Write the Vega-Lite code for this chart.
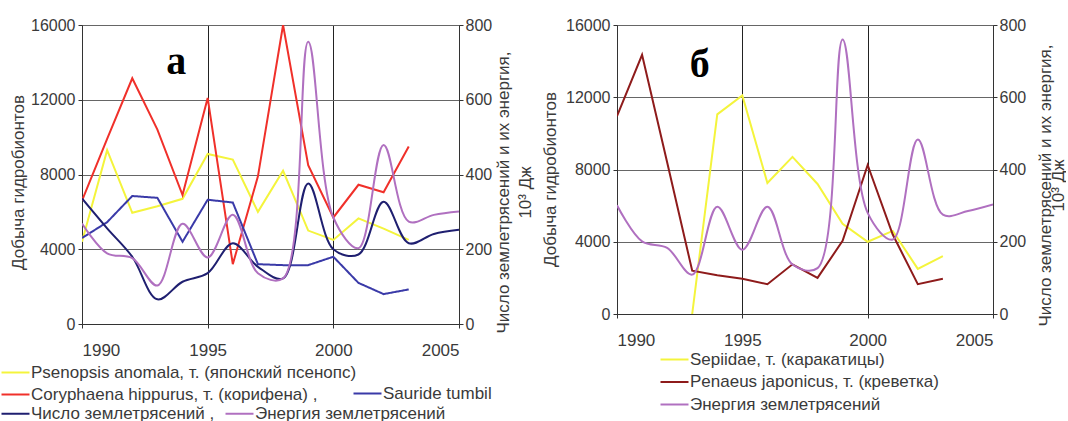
{
  "$schema": "https://vega.github.io/schema/vega-lite/v6.json",
  "background": "white",
  "padding": {"left": 0, "top": 17, "right": 0, "bottom": 0},
  "spacing": 158,
  "bounds": "flush",
  "config": {
    "view": {"stroke": null},
    "font": "Liberation Sans",
    "axis": {
      "labelFont": "Liberation Sans", "labelFontSize": 16, "labelColor": "#3a3a3a",
      "titleFont": "Liberation Sans", "titleFontSize": 17, "titleFontWeight": "normal", "titleColor": "#3a3a3a",
      "domainColor": "#333333", "tickColor": "#333333", "tickSize": 4
    },
    "legend": {
      "labelFont": "Liberation Sans", "labelFontSize": 17, "labelColor": "#3a3a3a",
      "padding": 0, "labelLimit": 600, "symbolStrokeWidth": 2
    }
  },
  "resolve": {
    "scale": {"x": "independent", "y": "independent", "color": "independent", "stroke": "independent", "strokeDash": "independent"},
    "legend": {"color": "independent", "stroke": "independent", "strokeDash": "independent"}
  },
  "datasets": {
    "a": [
      {"year": 1990, "series": "Psenopsis anomala, т. (японский псенопс)", "value": 4400},
      {"year": 1991, "series": "Psenopsis anomala, т. (японский псенопс)", "value": 9300},
      {"year": 1992, "series": "Psenopsis anomala, т. (японский псенопс)", "value": 5950},
      {"year": 1993, "series": "Psenopsis anomala, т. (японский псенопс)", "value": 6300},
      {"year": 1994, "series": "Psenopsis anomala, т. (японский псенопс)", "value": 6700},
      {"year": 1995, "series": "Psenopsis anomala, т. (японский псенопс)", "value": 9100},
      {"year": 1996, "series": "Psenopsis anomala, т. (японский псенопс)", "value": 8800},
      {"year": 1997, "series": "Psenopsis anomala, т. (японский псенопс)", "value": 6000},
      {"year": 1998, "series": "Psenopsis anomala, т. (японский псенопс)", "value": 8200},
      {"year": 1999, "series": "Psenopsis anomala, т. (японский псенопс)", "value": 5000},
      {"year": 2000, "series": "Psenopsis anomala, т. (японский псенопс)", "value": 4500},
      {"year": 2001, "series": "Psenopsis anomala, т. (японский псенопс)", "value": 5650},
      {"year": 2002, "series": "Psenopsis anomala, т. (японский псенопс)", "value": 5100},
      {"year": 2003, "series": "Psenopsis anomala, т. (японский псенопс)", "value": 4500},
      {"year": 1990, "series": "Coryphaena hippurus, т. (корифена)", "value": 6600},
      {"year": 1991, "series": "Coryphaena hippurus, т. (корифена)", "value": 9900},
      {"year": 1992, "series": "Coryphaena hippurus, т. (корифена)", "value": 13150},
      {"year": 1993, "series": "Coryphaena hippurus, т. (корифена)", "value": 10400},
      {"year": 1994, "series": "Coryphaena hippurus, т. (корифена)", "value": 6900},
      {"year": 1995, "series": "Coryphaena hippurus, т. (корифена)", "value": 12100},
      {"year": 1996, "series": "Coryphaena hippurus, т. (корифена)", "value": 3200},
      {"year": 1997, "series": "Coryphaena hippurus, т. (корифена)", "value": 7900},
      {"year": 1998, "series": "Coryphaena hippurus, т. (корифена)", "value": 16000},
      {"year": 1999, "series": "Coryphaena hippurus, т. (корифена)", "value": 8500},
      {"year": 2000, "series": "Coryphaena hippurus, т. (корифена)", "value": 5700},
      {"year": 2001, "series": "Coryphaena hippurus, т. (корифена)", "value": 7450},
      {"year": 2002, "series": "Coryphaena hippurus, т. (корифена)", "value": 7050},
      {"year": 2003, "series": "Coryphaena hippurus, т. (корифена)", "value": 9500},
      {"year": 1990, "series": "Sauride tumbil", "value": 4600},
      {"year": 1991, "series": "Sauride tumbil", "value": 5450},
      {"year": 1992, "series": "Sauride tumbil", "value": 6850},
      {"year": 1993, "series": "Sauride tumbil", "value": 6750},
      {"year": 1994, "series": "Sauride tumbil", "value": 4400},
      {"year": 1995, "series": "Sauride tumbil", "value": 6650},
      {"year": 1996, "series": "Sauride tumbil", "value": 6500},
      {"year": 1997, "series": "Sauride tumbil", "value": 3200},
      {"year": 1998, "series": "Sauride tumbil", "value": 3150},
      {"year": 1999, "series": "Sauride tumbil", "value": 3150},
      {"year": 2000, "series": "Sauride tumbil", "value": 3600},
      {"year": 2001, "series": "Sauride tumbil", "value": 2200},
      {"year": 2002, "series": "Sauride tumbil", "value": 1600},
      {"year": 2003, "series": "Sauride tumbil", "value": 1850},
      {"year": 1990, "series": "Число землетрясений", "value": 336},
      {"year": 1991, "series": "Число землетрясений", "value": 256},
      {"year": 1992, "series": "Число землетрясений", "value": 180},
      {"year": 1993, "series": "Число землетрясений", "value": 66},
      {"year": 1994, "series": "Число землетрясений", "value": 113},
      {"year": 1995, "series": "Число землетрясений", "value": 136},
      {"year": 1996, "series": "Число землетрясений", "value": 216},
      {"year": 1997, "series": "Число землетрясений", "value": 153},
      {"year": 1998, "series": "Число землетрясений", "value": 122},
      {"year": 1999, "series": "Число землетрясений", "value": 376},
      {"year": 2000, "series": "Число землетрясений", "value": 200},
      {"year": 2001, "series": "Число землетрясений", "value": 186},
      {"year": 2002, "series": "Число землетрясений", "value": 327},
      {"year": 2003, "series": "Число землетрясений", "value": 216},
      {"year": 2004, "series": "Число землетрясений", "value": 241},
      {"year": 2005, "series": "Число землетрясений", "value": 252},
      {"year": 1990, "series": "Энергия землетрясений", "value": 269},
      {"year": 1991, "series": "Энергия землетрясений", "value": 189},
      {"year": 1992, "series": "Энергия землетрясений", "value": 176},
      {"year": 1993, "series": "Энергия землетрясений", "value": 103},
      {"year": 1994, "series": "Энергия землетрясений", "value": 268},
      {"year": 1995, "series": "Энергия землетрясений", "value": 178},
      {"year": 1996, "series": "Энергия землетрясений", "value": 292},
      {"year": 1997, "series": "Энергия землетрясений", "value": 136},
      {"year": 1998, "series": "Энергия землетрясений", "value": 122},
      {"year": 1999, "series": "Энергия землетрясений", "value": 755},
      {"year": 2000, "series": "Энергия землетрясений", "value": 285},
      {"year": 2001, "series": "Энергия землетрясений", "value": 203},
      {"year": 2002, "series": "Энергия землетрясений", "value": 479},
      {"year": 2003, "series": "Энергия землетрясений", "value": 274},
      {"year": 2004, "series": "Энергия землетрясений", "value": 292},
      {"year": 2005, "series": "Энергия землетрясений", "value": 301}
    ],
    "b": [
      {"year": 1993, "series": "Sepiidae, т. (каракатицы)", "value": 0},
      {"year": 1994, "series": "Sepiidae, т. (каракатицы)", "value": 11050},
      {"year": 1995, "series": "Sepiidae, т. (каракатицы)", "value": 12100},
      {"year": 1996, "series": "Sepiidae, т. (каракатицы)", "value": 7250},
      {"year": 1997, "series": "Sepiidae, т. (каракатицы)", "value": 8700},
      {"year": 1998, "series": "Sepiidae, т. (каракатицы)", "value": 7200},
      {"year": 1999, "series": "Sepiidae, т. (каракатицы)", "value": 5000},
      {"year": 2000, "series": "Sepiidae, т. (каракатицы)", "value": 4000},
      {"year": 2001, "series": "Sepiidae, т. (каракатицы)", "value": 4600},
      {"year": 2002, "series": "Sepiidae, т. (каракатицы)", "value": 2500},
      {"year": 2003, "series": "Sepiidae, т. (каракатицы)", "value": 3200},
      {"year": 1990, "series": "Penaeus japonicus, т. (креветка)", "value": 10950},
      {"year": 1991, "series": "Penaeus japonicus, т. (креветка)", "value": 14350},
      {"year": 1992, "series": "Penaeus japonicus, т. (креветка)", "value": 8400},
      {"year": 1993, "series": "Penaeus japonicus, т. (креветка)", "value": 2400},
      {"year": 1994, "series": "Penaeus japonicus, т. (креветка)", "value": 2150},
      {"year": 1995, "series": "Penaeus japonicus, т. (креветка)", "value": 1950},
      {"year": 1996, "series": "Penaeus japonicus, т. (креветка)", "value": 1650},
      {"year": 1997, "series": "Penaeus japonicus, т. (креветка)", "value": 2750},
      {"year": 1998, "series": "Penaeus japonicus, т. (креветка)", "value": 2000},
      {"year": 1999, "series": "Penaeus japonicus, т. (креветка)", "value": 4050},
      {"year": 2000, "series": "Penaeus japonicus, т. (креветка)", "value": 8250},
      {"year": 2001, "series": "Penaeus japonicus, т. (креветка)", "value": 4400},
      {"year": 2002, "series": "Penaeus japonicus, т. (креветка)", "value": 1650},
      {"year": 2003, "series": "Penaeus japonicus, т. (креветка)", "value": 1950},
      {"year": 1990, "series": "Энергия землетрясений", "value": 301},
      {"year": 1991, "series": "Энергия землетрясений", "value": 201},
      {"year": 1992, "series": "Энергия землетрясений", "value": 183},
      {"year": 1993, "series": "Энергия землетрясений", "value": 109},
      {"year": 1994, "series": "Энергия землетрясений", "value": 297},
      {"year": 1995, "series": "Энергия землетрясений", "value": 178},
      {"year": 1996, "series": "Энергия землетрясений", "value": 297},
      {"year": 1997, "series": "Энергия землетрясений", "value": 137},
      {"year": 1998, "series": "Энергия землетрясений", "value": 127},
      {"year": 1999, "series": "Энергия землетрясений", "value": 760},
      {"year": 2000, "series": "Энергия землетрясений", "value": 280},
      {"year": 2001, "series": "Энергия землетрясений", "value": 206},
      {"year": 2002, "series": "Энергия землетрясений", "value": 483},
      {"year": 2003, "series": "Энергия землетрясений", "value": 275},
      {"year": 2004, "series": "Энергия землетрясений", "value": 285},
      {"year": 2005, "series": "Энергия землетрясений", "value": 303}
    ]
  },
  "hconcat": [
    {
      "width": 377,
      "height": 299,
      "data": {"name": "a"},
      "resolve": {"scale": {"y": "independent"}},
      "layer": [
        {
          "layer": [
            {
              "transform": [{"filter": "datum.series === 'Psenopsis anomala, т. (японский псенопс)' || datum.series === 'Coryphaena hippurus, т. (корифена)'"}],
              "mark": {"type": "line", "strokeWidth": 2, "clip": true},
              "encoding": {
                "x": {"field": "year", "type": "quantitative",
                  "scale": {"domain": [1990, 2005], "nice": false, "zero": false},
                  "axis": {"values": [1990, 1995, 2000, 2005], "format": "d", "title": null, "grid": true, "gridColor": "#222222", "gridOpacity": 1, "labelPadding": 14, "labelFontSize": 17}},
                "y": {"field": "value", "type": "quantitative",
                  "scale": {"domain": [0, 16000], "nice": false},
                  "axis": {"orient": "left", "values": [0, 4000, 8000, 12000, 16000], "format": "d", "grid": true, "gridColor": "#666666", "gridOpacity": 1, "title": "Добыча гидробионтов", "titlePadding": 3, "titleY": 157, "labelPadding": 3}},
                "color": {"field": "series", "type": "nominal",
                  "scale": {"domain": ["Psenopsis anomala, т. (японский псенопс)", "Coryphaena hippurus, т. (корифена)"], "range": ["#f4f43c", "#f0302a"]},
                  "legend": {"title": null, "orient": "none", "legendX": -82, "legendY": 339, "direction": "vertical", "symbolType": "M-1,0H3", "symbolSize": 196, "symbolStrokeWidth": 2, "labelOffset": 14, "rowPadding": 4,
                    "labelExpr": "datum.label == 'Coryphaena hippurus, т. (корифена)' ? datum.label + ' ,' : datum.label"}}
              }
            },
            {
              "transform": [{"filter": "datum.series === 'Sauride tumbil'"}],
              "mark": {"type": "line", "strokeWidth": 2, "color": "#3a3aa8", "clip": true},
              "encoding": {
                "x": {"field": "year", "type": "quantitative"},
                "y": {"field": "value", "type": "quantitative"},
                "strokeDash": {"field": "series", "type": "nominal",
                  "scale": {"domain": ["Sauride tumbil"], "range": [[1, 0]]},
                  "legend": {"title": null, "orient": "none", "legendX": 270, "legendY": 360, "symbolType": "M-1,0H3", "symbolSize": 196, "symbolStrokeWidth": 2, "symbolStrokeColor": "#3a3aa8", "labelOffset": 14}}
              }
            },
            {
              "data": {"values": [{"label": "а"}]},
              "mark": {"type": "text", "font": "Liberation Serif", "fontSize": 40, "fontWeight": "bold", "color": "#000000", "align": "center", "baseline": "middle"},
              "encoding": {
                "x": {"datum": 1993.75, "type": "quantitative"},
                "y": {"datum": 14000, "type": "quantitative"},
                "text": {"field": "label"}
              }
            }
          ]
        },
        {
          "transform": [{"filter": "datum.series === 'Число землетрясений' || datum.series === 'Энергия землетрясений'"}],
          "mark": {"type": "line", "strokeWidth": 2, "interpolate": "catmull-rom", "clip": true},
          "encoding": {
            "x": {"field": "year", "type": "quantitative"},
            "y": {"field": "value", "type": "quantitative",
              "scale": {"domain": [0, 800], "nice": false},
              "axis": {"orient": "right", "values": [0, 200, 400, 600, 800], "format": "d", "grid": false, "labelPadding": 2,
                "title": ["Число землетрясений и их энергия,", "10³ Дж"], "titleAngle": 270, "titleBaseline": "top", "titleX": 36, "titleY": 167, "titleLineHeight": 22}},
            "stroke": {"field": "series", "type": "nominal",
              "scale": {"domain": ["Число землетрясений", "Энергия землетрясений"], "range": ["#1f1f70", "#b070c0"]},
              "legend": {"title": null, "orient": "none", "legendX": -82, "legendY": 380, "direction": "horizontal", "symbolType": "M-1,0H3", "symbolSize": 196, "symbolStrokeWidth": 2, "labelOffset": 14, "columnPadding": 6,
                "labelExpr": "datum.label == 'Число землетрясений' ? datum.label + ' ,' : datum.label"}}
          }
        }
      ]
    },
    {
      "width": 376,
      "height": 289,
      "data": {"name": "b"},
      "resolve": {"scale": {"y": "independent"}},
      "layer": [
        {
          "layer": [
            {
              "transform": [{"filter": "datum.series !== 'Энергия землетрясений'"}],
              "mark": {"type": "line", "strokeWidth": 2, "clip": true},
              "encoding": {
                "x": {"field": "year", "type": "quantitative",
                  "scale": {"domain": [1990, 2005], "nice": false, "zero": false},
                  "axis": {"values": [1990, 1995, 2000, 2005], "format": "d", "title": null, "grid": true, "gridColor": "#222222", "gridOpacity": 1, "labelPadding": 14, "labelFontSize": 17}},
                "y": {"field": "value", "type": "quantitative",
                  "scale": {"domain": [0, 16000], "nice": false},
                  "axis": {"orient": "left", "values": [0, 4000, 8000, 12000, 16000], "format": "d", "grid": true, "gridColor": "#666666", "gridOpacity": 1, "title": "Добыча гидробионтов", "titlePadding": 6, "titleY": 154, "labelPadding": 3}},
                "color": {"field": "series", "type": "nominal",
                  "scale": {"domain": ["Sepiidae, т. (каракатицы)", "Penaeus japonicus, т. (креветка)", "Энергия землетрясений"], "range": ["#f4f43c", "#8e1b1b", "#b070c0"]},
                  "legend": {"title": null, "orient": "none", "legendX": 42, "legendY": 326, "direction": "vertical", "symbolType": "M-1,0H3", "symbolSize": 196, "symbolStrokeWidth": 2, "labelOffset": 14, "rowPadding": 4.5}}
              }
            },
            {
              "data": {"values": [{"label": "б"}]},
              "mark": {"type": "text", "font": "Liberation Serif", "fontSize": 40, "fontWeight": "bold", "color": "#000000", "align": "center", "baseline": "middle"},
              "encoding": {
                "x": {"datum": 1993.3, "type": "quantitative"},
                "y": {"datum": 13800, "type": "quantitative"},
                "text": {"field": "label"}
              }
            }
          ]
        },
        {
          "transform": [{"filter": "datum.series === 'Энергия землетрясений'"}],
          "mark": {"type": "line", "strokeWidth": 2, "interpolate": "catmull-rom", "clip": true},
          "encoding": {
            "x": {"field": "year", "type": "quantitative"},
            "y": {"field": "value", "type": "quantitative",
              "scale": {"domain": [0, 800], "nice": false},
              "axis": {"orient": "right", "values": [0, 200, 400, 600, 800], "format": "d", "grid": false, "labelPadding": 2,
                "title": ["Число землетрясений и их энергия,", "10³ Дж"], "titleAngle": 270, "titleBaseline": "top", "titleX": 44, "titleY": 160, "titleLineHeight": 13}},
            "color": {"field": "series", "type": "nominal",
              "scale": {"domain": ["Sepiidae, т. (каракатицы)", "Penaeus japonicus, т. (креветка)", "Энергия землетрясений"], "range": ["#f4f43c", "#8e1b1b", "#b070c0"]}}
          }
        }
      ]
    }
  ]
}
